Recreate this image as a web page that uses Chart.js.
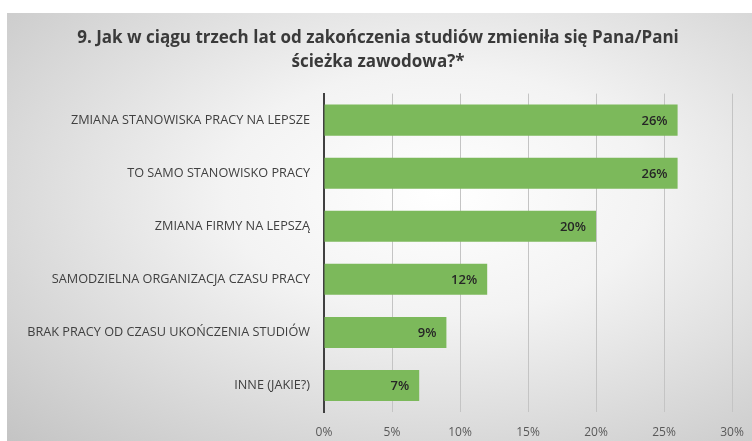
<!DOCTYPE html>
<html>
<head>
<meta charset="utf-8">
<script src="https://cdn.jsdelivr.net/npm/chart.js@4"></script>
<style>
  html, body { margin: 0; padding: 0; background: #fff; }
  #box {
    position: absolute; left: 7px; top: 13px; width: 745px; height: 428px;
    background: radial-gradient(ellipse farthest-corner at 58% 42%, #ffffff 0%, #f3f3f3 35%, #d6d6d6 75%, #c4c4c4 100%);
  }
</style>
</head>
<body>
<div id="box"><canvas id="myChart" width="745" height="428"></canvas></div>
<script>
const categories = [
  'ZMIANA STANOWISKA PRACY NA LEPSZE',
  'TO SAMO STANOWISKO PRACY',
  'ZMIANA FIRMY NA LEPSZĄ',
  'SAMODZIELNA ORGANIZACJA CZASU PRACY',
  'BRAK PRACY OD CZASU UKOŃCZENIA STUDIÓW',
  'INNE (JAKIE?)'
]
const percents = [26, 26, 20, 12, 9, 7]
const titleLines = ['9. Jak w ciągu trzech lat od zakończenia studiów zmieniła się Pana/Pani', 'ścieżka zawodowa?*']

const fontName = "'Open Sans', sans-serif"

// value labels drawn just inside the end of each bar
const barLabels = {
  id: 'barLabels',
  afterDatasetsDraw(chart) {
    const c = chart.ctx
    const meta = chart.getDatasetMeta(0)
    c.save()
    c.font = '600 13px ' + fontName
    c.fillStyle = '#262626'
    c.textAlign = 'right'
    c.textBaseline = 'middle'
    meta.data.forEach((bar, i) => {
      c.fillText(percents[i] + '%', bar.x - 10, bar.y + 1)
    })
    c.restore()
  }
}

const ctx = document.getElementById('myChart')
new Chart(ctx, {
  type: 'bar',
  data: {
    labels: categories,
    datasets: [{
      data: percents,
      backgroundColor: '#7cb95b',
      borderWidth: 0,
      barPercentage: 0.585,
      categoryPercentage: 1
    }]
  },
  options: {
    indexAxis: 'y',
    responsive: false,
    animation: false,
    layout: { padding: { left: 17, right: 20, top: 0, bottom: 0 } },
    plugins: {
      legend: { display: false },
      tooltip: { enabled: false },
      title: {
        display: true,
        text: titleLines,
        color: '#3a3a3a',
        font: { family: fontName, size: 17, weight: 'bold', lineHeight: 1.4 },
        padding: { top: 13, bottom: 20 }
      }
    },
    scales: {
      x: {
        min: 0,
        max: 30,
        ticks: {
          stepSize: 5,
          callback: v => v + '%',
          color: '#595959',
          font: { family: fontName, size: 12 },
          padding: 13
        },
        grid: { color: '#c4c4c4', lineWidth: 1, drawTicks: false },
        border: { display: false },
        afterFit: s => { s.height = 29; s.paddingRight = 0 }
      },
      y: {
        ticks: {
          color: '#404040',
          font: { family: fontName, size: 12.7 },
          padding: 14,
          autoSkip: false
        },
        grid: { display: false, drawTicks: false },
        border: { display: true, color: '#404040', width: 2 },
        afterFit: s => { s.width = 300 }
      }
    }
  },
  plugins: [barLabels]
})
</script>
</body>
</html>
